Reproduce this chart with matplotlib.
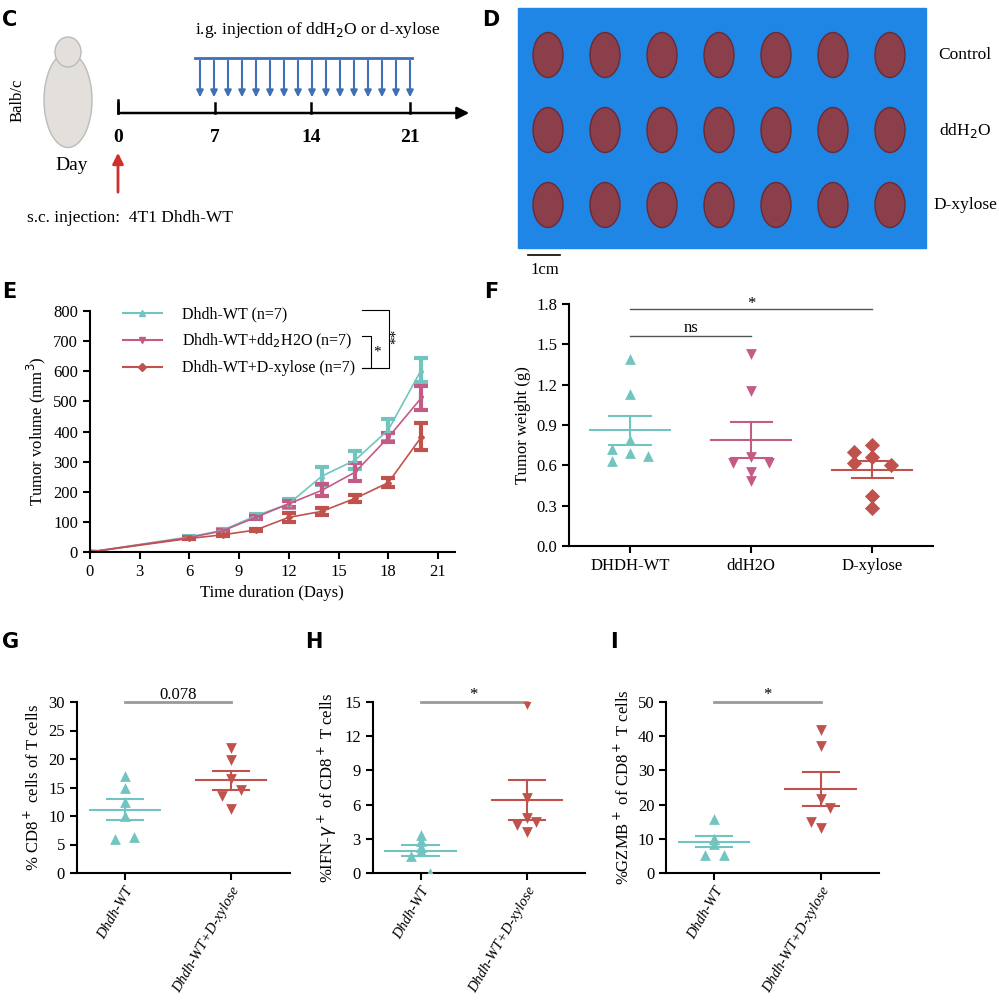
import matplotlib
matplotlib.use("Agg")
from matplotlib import pyplot as plt
from matplotlib.patches import Ellipse, Rectangle
from matplotlib.lines import Line2D
import numpy as np

plt.rcParams['font.family'] = ['Liberation Serif', 'DejaVu Serif']

TEAL = '#72c4c0'
PINK = '#c45a86'
RED = '#c0524e'

# Panel E: tumor growth
days = [0, 6, 8, 10, 12, 14, 16, 18, 20]
vol_wt = [0, 50, 72, 120, 160, 252, 305, 405, 605]
err_wt = [0, 3, 5, 5, 15, 30, 30, 35, 40]
vol_dd = [0, 48, 70, 115, 160, 205, 265, 380, 512]
err_dd = [0, 3, 4, 5, 10, 20, 30, 15, 40]
vol_xy = [0, 45, 57, 73, 115, 135, 178, 230, 382]
err_xy = [0, 3, 3, 3, 15, 12, 12, 15, 45]

# Panel F: tumor weight
f_groups = ['DHDH-WT', 'ddH2O', 'D-xylose']
w_wt = [1.39, 1.13, 0.79, 0.72, 0.69, 0.67, 0.63]
w_dd = [1.43, 1.15, 0.66, 0.62, 0.62, 0.55, 0.48]
w_xy = [0.75, 0.70, 0.66, 0.62, 0.60, 0.37, 0.28]
f_jit_wt = [0, 0, 0, -0.15, 0, 0.15, -0.15]
f_jit_dd = [0, 0, 0, -0.15, 0.15, 0, 0]
f_jit_xy = [0, -0.15, 0, -0.15, 0.15, 0, 0]

# Panels G-I
gi_groups = ['Dhdh-WT', 'Dhdh-WT+D-xylose']
g_wt = [17, 15, 12.5, 10, 6, 6.3]
g_xy = [22, 19.8, 16.5, 14.5, 13.5, 11.3]
h_wt = [3.3, 2.8, 2.3, 1.9, 1.5, 0]
h_xy = [14.8, 6.6, 4.8, 4.5, 4.2, 3.6]
i_wt = [15.8, 10, 10, 8.5, 5.3, 5.3]
i_xy = [41.7, 37, 21.5, 19, 15, 13.3]
jit6 = [0, 0, 0, 0, -0.09, 0.09]
jit6b = [0, 0, 0, 0.09, -0.09, 0]

fig = plt.figure(figsize=(9.99, 10), dpi=100)

def letter(x, y, s):
    ov.text(x, y, s, fontsize=15, fontweight='bold', family='DejaVu Sans', va='top')

# Panel E
axE = fig.add_axes([0.090, 0.448, 0.365, 0.241])
handles = []
for v, e, c, m, lab in [(vol_wt, err_wt, TEAL, '^', 'Dhdh-WT (n=7)'),
                        (vol_dd, err_dd, PINK, 'v', 'Dhdh-WT+dd$_2$H2O (n=7)'),
                        (vol_xy, err_xy, RED, 'D', 'Dhdh-WT+D-xylose (n=7)')]:
    axE.errorbar(days, v, yerr=e, color=c, marker=m, ms=3, lw=1.2,
                 elinewidth=3, capsize=5, capthick=3)
    handles.append(Line2D([], [], color=c, marker=m, ms=4, lw=1.5, label=lab))
axE.set_xlim(0, 22)
axE.set_ylim(0, 800)
axE.set_xticks(range(0, 22, 3))
axE.set_yticks(range(0, 801, 100))
axE.set_xlabel('Time duration (Days)', fontsize=12)
axE.set_ylabel('Tumor volume (mm$^3$)', fontsize=12)
axE.tick_params(labelsize=12, width=1.5, length=5)
axE.legend(handles=handles, loc='upper left', bbox_to_anchor=(0.05, 1.08), frameon=False,
           fontsize=11.5, handlelength=2.5, handletextpad=1.2, labelspacing=0.6)
for s in ['top', 'right']:
    axE.spines[s].set_visible(False)
for s in ['left', 'bottom']:
    axE.spines[s].set_linewidth(1.5)

def scatter_panel(ax, groups, datas, jits, colors, markers, ms):
    for i, (d, j, c, m) in enumerate(zip(datas, jits, colors, markers)):
        d = np.array(d)
        ax.scatter(np.array(j) + i, d, color=c, marker=m, s=ms, zorder=3, lw=0)
        mean = d.mean()
        sem = d.std(ddof=1) / np.sqrt(len(d))
        ax.plot([i - 0.33, i + 0.33], [mean, mean], color=c, lw=1.5)
        ax.plot([i - 0.17, i + 0.17], [mean + sem] * 2, color=c, lw=1.5)
        ax.plot([i - 0.17, i + 0.17], [mean - sem] * 2, color=c, lw=1.5)
        ax.plot([i, i], [mean - sem, mean + sem], color=c, lw=1.5)
    ax.set_xticks(range(len(groups)))
    for s in ['top', 'right']:
        ax.spines[s].set_visible(False)
    for s in ['left', 'bottom']:
        ax.spines[s].set_linewidth(1.5)
    ax.tick_params(width=1.5, length=5)

# Panel F
axF = fig.add_axes([0.570, 0.454, 0.364, 0.242])
scatter_panel(axF, f_groups, [w_wt, w_dd, w_xy], [f_jit_wt, f_jit_dd, f_jit_xy],
              [TEAL, PINK, RED], ['^', 'v', 'D'], 60)
axF.set_xlim(-0.5, 2.5)
axF.set_ylim(0, 1.8)
axF.set_yticks(np.arange(0, 1.81, 0.3))
axF.set_yticklabels(['%.1f' % t for t in np.arange(0, 1.81, 0.3)])
axF.set_xticklabels(f_groups)
axF.tick_params(labelsize=12)
axF.set_ylabel('Tumor weight (g)', fontsize=12)
axF.plot([0, 1], [1.56, 1.56], color='#555', lw=1, clip_on=False)
axF.text(0.5, 1.59, 'ns', fontsize=12, ha='center')
axF.plot([0, 2], [1.76, 1.76], color='#555', lw=1, clip_on=False)
axF.text(1, 1.77, '*', fontsize=12, ha='center')

# Panels G-I
specs = [(0.077, g_wt, g_xy, 30, 5, '% CD8$^+$ cells of T cells', '0.078'),
         (0.373, h_wt, h_xy, 15, 3, '%IFN-$\\gamma^+$ of CD8$^+$ T cells', '*'),
         (0.667, i_wt, i_xy, 50, 10, '%GZMB$^+$ of CD8$^+$ T cells', '*')]
for left, a, b, ymax, step, ylab, sig in specs:
    ax = fig.add_axes([left, 0.127, 0.213, 0.171])
    scatter_panel(ax, gi_groups, [a, b], [jit6, jit6b], [TEAL, RED], ['^', 'v'], 60)
    ax.set_xlim(-0.45, 1.55)
    ax.set_ylim(0, ymax)
    ax.set_yticks(np.arange(0, ymax + 0.1, step))
    ax.set_xticklabels(gi_groups, rotation=60, ha='right', rotation_mode='anchor',
                       fontsize=10.5, style='italic')
    ax.tick_params(axis='y', labelsize=12)
    ax.set_ylabel(ylab, fontsize=12)
    ax.plot([0, 1], [ymax, ymax], color='#999', lw=2, clip_on=False)
    ax.text(0.5, ymax * 1.02, sig, fontsize=12, ha='center')

# overlay in pixel coords for schematic parts, drawn on top
ov = fig.add_axes([0, 0, 1, 1], zorder=10)
ov.patch.set_alpha(0)
ov.set_xlim(0, 999)
ov.set_ylim(1000, 0)
ov.axis('off')

letter(2, 10, 'C'); letter(482, 10, 'D'); letter(2, 282, 'E'); letter(484, 282, 'F')
letter(2, 632, 'G'); letter(305, 632, 'H'); letter(610, 632, 'I')

# Panel C schematic
ov.add_patch(Ellipse((68, 100), 48, 95, color='#e3e0dc', ec='#bbb'))
ov.add_patch(Ellipse((68, 52), 26, 30, color='#e3e0dc', ec='#bbb'))
ov.text(18, 100, 'Balb/c', rotation=90, fontsize=12, va='center', ha='center')
ov.text(72, 165, 'Day', fontsize=14, ha='center', va='center')
ov.annotate('', xy=(472, 113), xytext=(118, 113),
            arrowprops=dict(arrowstyle='-|>', color='black', lw=1.8, mutation_scale=18))
ov.plot([118, 118], [100, 113], color='black', lw=1.8)
for xp, lab in zip([118, 215, 311, 410], ['0', '7', '14', '21']):
    ov.plot([xp, xp], [103, 113], color='black', lw=1.8)
    ov.text(xp, 138, lab, fontsize=14, fontweight='bold', ha='center', va='center')
for xp in np.linspace(200, 410, 16):
    ov.annotate('', xy=(xp, 100), xytext=(xp, 58),
                arrowprops=dict(arrowstyle='-|>', color='#3f6fb5', lw=1.5, mutation_scale=10))
ov.plot([195, 412], [58, 58], color='#3f6fb5', lw=2)
ov.text(318, 30, 'i.g. injection of ddH$_2$O or d-xylose', fontsize=12.5, ha='center', va='center')
ov.annotate('', xy=(118, 150), xytext=(118, 195),
            arrowprops=dict(arrowstyle='-|>', color='#d0302c', lw=2, mutation_scale=16))
ov.text(130, 218, 's.c. injection:  4T1 Dhdh-WT', fontsize=12.5, ha='center', va='center')

# Panel D photo-like
ov.add_patch(Rectangle((518, 8), 408, 240, color='#1f86e6'))
for ry in [55, 130, 205]:
    for cx in np.linspace(548, 890, 7):
        ov.add_patch(Ellipse((cx, ry), 30, 45, color='#8a3f4a', ec='#6a2a33'))
for ry, lab in zip([55, 130, 205], ['Control', 'ddH$_2$O', 'D-xylose']):
    ov.text(965, ry, lab, fontsize=12.5, ha='center', va='center')
ov.plot([528, 560], [255, 255], color='black', lw=1.2)
ov.text(545, 270, '1cm', fontsize=12, ha='center', va='center')

# significance brackets in E
ov.plot([362, 389, 389, 362], [310, 310, 368, 368], color='black', lw=0.8)
ov.plot([362, 371, 371, 362], [336, 336, 368, 368], color='black', lw=0.8)
ov.text(377, 352, '*', fontsize=11, ha='center', va='center')
ov.text(396, 336, '**', fontsize=11, ha='center', va='center', rotation=90)

fig.savefig('out.png', dpi=100)
